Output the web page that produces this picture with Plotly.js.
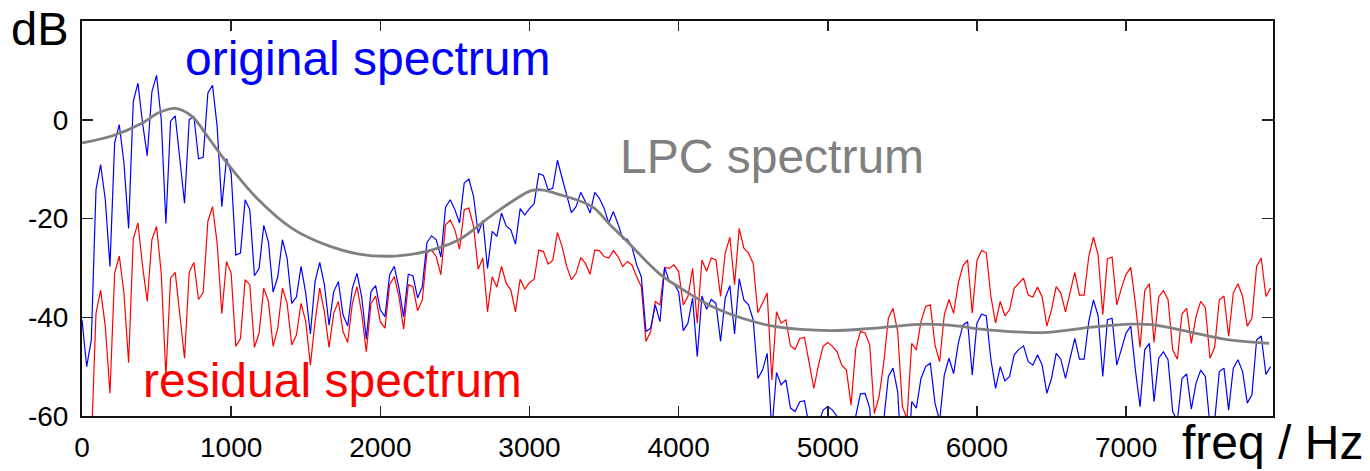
<!DOCTYPE html>
<html>
<head>
<meta charset="utf-8">
<script src="https://cdn.plot.ly/plotly-3.0.1.min.js"></script>
<style>
  html, body { margin: 0; padding: 0; background: #fff; }
  #chart { width: 1370px; height: 471px; }
</style>
</head>
<body>
<div id="chart"></div>
<script>
// Frequency bin spacing (Hz) and bin count
const binHz = 31.25;

// Original spectrum (dB), one value per bin
const originalDb = [
  -40.5, -50, -44.6, -14.2, -9.1, -16.2, -29.7, -4.7, -1.0, -8.8,
  -22, 3.7, 7.4, -0.7, -7.3, 5.7, 9.0, 0, -21, -0.3,
  0.8, -8.1, -16.9, 0, 0.7, -7.9, -7.6, 5.4, 7.0, -1.4,
  -17.6, -7.9, -10.8, -27.4, -27, -16.2, -18.2, -31.6, -30.1, -21.4,
  -24.8, -34.9, -31.8, -24.3, -28, -37.2, -35.9, -29.7, -35.1, -43.4,
  -32.8, -28.9, -33.4, -41.6, -34.8, -32.8, -39.5, -41.8, -34.1, -31.1,
  -35.8, -44.4, -34.8, -33.6, -38.5, -39.9, -31.4, -29.7, -34.1, -39.9,
  -31.3, -31.6, -36.1, -33.8, -24.9, -23.5, -24.3, -27.8, -17.7, -16.2,
  -18.2, -20.9, -12.8, -12, -15.5, -23, -20.4, -30.1, -22.6, -23.6,
  -18.9, -21.5, -22.3, -25.2, -18, -19.3, -18, -17, -10.9, -11.3,
  -14.2, -13.9, -8.2, -11.8, -15.5, -18.8, -17.6, -14.7, -16.6, -18.9,
  -14.7, -15.9, -17.9, -20.9, -18.6, -21.1, -24.1, -24.2, -25.8, -29.4,
  -31.8, -42.9, -42.2, -37.5, -40.9, -29.9, -32.8, -33.2, -34.8, -42.7,
  -41.2, -36.1, -48, -35.7, -38.4, -36.4, -37.2, -44.9, -36.1, -33.6,
  -43.4, -32.2, -36.5, -37.5, -40.5, -52.4, -50.7, -47.3, -63, -51.2,
  -53.7, -52.7, -58.4, -59.1, -57.1, -56.9, -62, -63.5, -61.5, -58.8,
  -58.1, -58.8, -60.1, -63, -64, -71, -60, -55.5, -55.4, -58.4,
  -73, -69, -61, -52, -50.3, -55.1, -71, -74, -57.1, -58.4,
  -52.4, -50, -49.3, -57.4, -61, -51.7, -48.3, -51.4, -45.3, -41.6,
  -40.9, -51.7, -41.2, -39.4, -39.7, -48.6, -54.4, -50, -52.9, -52,
  -47.6, -46.5, -45.8, -49, -49.7, -47.6, -49.7, -55.4, -52.4, -47.3,
  -48.5, -52.4, -48.3, -44.3, -48.5, -48.5, -40.9, -36.5, -39.7, -52,
  -40.5, -40.2, -49.7, -46.6, -43.2, -41.8, -50.7, -58.1, -46.6, -45.3,
  -57.1, -48.3, -47, -48.6, -59.1, -61, -52.4, -51.5, -58.6, -53.4,
  -50.7, -52, -62, -61, -51, -50.3, -58.8, -50.3, -48.6, -51,
  -57.4, -55.7, -44.6, -43.8, -51.6, -50
];

// Residual spectrum (dB), one value per bin
const residualDb = [
  -70, -75, -66, -39.2, -34.5, -41.9, -55.4, -31.1, -27.6, -35.1,
  -49.2, -24.2, -20.9, -29.7, -36.8, -24.3, -21.6, -31.1, -52, -32.1,
  -30.9, -39.9, -48.3, -30.9, -28.9, -36.4, -35, -20.6, -17.6, -25,
  -39.3, -28.7, -31.1, -45.9, -44.3, -32.4, -33.4, -46.1, -43.2, -34.1,
  -36.8, -45.9, -42.2, -34.1, -37.2, -45.6, -43.6, -37.2, -40.9, -49.7,
  -40.9, -34.1, -38.9, -46.1, -39.2, -36.8, -42.9, -45.1, -37.2, -33.8,
  -39.2, -47, -37.2, -35.7, -40.9, -42.2, -33.4, -31.8, -35.8, -42.4,
  -33.4, -33.8, -38.7, -36.5, -27, -26.4, -27.7, -31.4, -21.3, -20.3,
  -22.3, -26.2, -18.2, -17.9, -21.6, -30.3, -28, -38.9, -31.8, -33.9,
  -29.7, -33.1, -34.5, -38.9, -32.3, -34.3, -33, -32.3, -26.4, -26.7,
  -29.2, -28.5, -22.8, -25.7, -29.7, -32.4, -31.1, -27.9, -29.1, -31.3,
  -26.4, -26.5, -27.7, -28, -26.5, -27.7, -29.7, -28.7, -29.4, -31.8,
  -33.8, -44.9, -42.9, -36.8, -37.5, -29.9, -30.1, -29.4, -30.7, -37.5,
  -35.8, -30.1, -41.2, -28.4, -30.7, -28, -28.4, -35.8, -27, -23.8,
  -33.4, -22, -26, -27, -29.1, -39.1, -37.2, -35.1, -52.7, -38.9,
  -41.2, -40.5, -45.8, -46.5, -44.3, -44.1, -49.2, -54.4, -49.7, -45.9,
  -45.1, -45.9, -47, -49.7, -50.7, -57.8, -46.3, -42.9, -43.2, -45.6,
  -59.5, -56.1, -49.3, -40.2, -38.2, -42.9, -58.1, -60.5, -45.3, -46.6,
  -40.9, -37.8, -37.5, -45.6, -49, -39.5, -36.4, -39.2, -33.1, -29.6,
  -28.4, -39.2, -28.5, -26.5, -26.9, -35.8, -41.2, -36.8, -39.7, -38.5,
  -34.1, -33, -32.1, -35.5, -35.9, -33.9, -35.9, -41.8, -38.5, -33.8,
  -35.1, -38.9, -34.8, -30.9, -35.5, -35.5, -27.7, -23.8, -27.4, -39.5,
  -28.2, -27.8, -37.5, -34.1, -31.3, -29.9, -37.2, -46.1, -34.6, -33.2,
  -45.1, -35.9, -34.6, -36.4, -46.6, -48.5, -39.3, -38.2, -45.3, -39.9,
  -36.8, -38, -48.3, -46.1, -36.5, -35.7, -43.9, -35.1, -33.2, -35.8,
  -41.8, -40.2, -29.7, -28, -35.8, -34.1
];

// LPC envelope, sampled points (Hz, dB)
const lpcHz = [0, 200, 402, 514, 625, 737, 849, 938, 1000, 1183, 1408, 1632, 1856, 2101, 2303, 2527, 2750, 3008, 3080, 3197, 3420, 3532, 3644, 3868, 4013, 4203, 4427, 4650, 5019, 5320, 5655, 5879, 6025, 6437, 6773, 7030, 7175, 7444, 7668, 7959];
const lpcDb = [-4.7, -3.3, -0.7, 1.4, 2.3, 0.7, -3.7, -7.4, -9.8, -16.2, -22, -25.3, -27.2, -27.6, -26.7, -24.3, -19.3, -14.4, -14.2, -15.1, -17.6, -21, -24.3, -31.1, -34.1, -37.5, -40.2, -41.9, -42.7, -42.2, -41.4, -41.8, -42.4, -43.1, -42, -41.4, -41.5, -43.1, -44.5, -45.3];

const xTickVals = [0, 1000, 2000, 3000, 4000, 5000, 6000, 7000];
const xTickText = ['0', '1000', '2000', '3000', '4000', '5000', '6000', '7000'];
const yTickVals = [-60, -40, -20, 0, 20];
const yTickText = ['-60', '-40', '-20', '0', ''];

const freqHz = originalDb.map((_, i) => i * binHz);

// layout geometry (pixels)
const W = 1370, H = 471;
const L = 82, R = 1273, T = 21, B = 416.5;
const px = (x) => (x - L) / (R - L);
const py = (y) => (B - y) / (B - T);

const font = '"Liberation Sans", Arial, Helvetica, sans-serif';

const traces = [
  { x: freqHz, y: residualDb, type: 'scatter', mode: 'lines',
    line: { color: '#ff0000', width: 1.2 }, hoverinfo: 'skip' },
  { x: freqHz, y: originalDb, type: 'scatter', mode: 'lines',
    line: { color: '#0000ff', width: 1.2 }, hoverinfo: 'skip' },
  { x: lpcHz, y: lpcDb, type: 'scatter', mode: 'lines',
    line: { color: '#808080', width: 2.8, shape: 'spline', smoothing: 1 }, hoverinfo: 'skip' }
];

const ann = (text, x, y, color, size) => ({
  text: text, xref: 'paper', yref: 'paper', x: px(x), y: py(y),
  xanchor: 'center', yanchor: 'middle', showarrow: false,
  font: { family: font, size: size, color: color }
});

const layout = {
  width: W, height: H,
  margin: { l: L, r: W - R, t: T, b: H - B, pad: 0 },
  paper_bgcolor: '#ffffff', plot_bgcolor: '#ffffff',
  showlegend: false,
  font: { family: font, color: '#000' },
  xaxis: {
    range: [0, 7985], tickvals: xTickVals, ticktext: xTickText,
    ticks: 'inside', ticklen: 10, tickwidth: 1.5, tickcolor: '#222',
    showline: true, linecolor: '#111', linewidth: 2, mirror: 'ticks',
    showgrid: false, zeroline: false,
    tickfont: { family: font, size: 28, color: '#000' },
    ticklabelstandoff: 5
  },
  yaxis: {
    range: [-60, 20], tickvals: yTickVals, ticktext: yTickText,
    ticks: 'inside', ticklen: 11, tickwidth: 1.5, tickcolor: '#222',
    showline: true, linecolor: '#111', linewidth: 2, mirror: 'ticks',
    showgrid: false, zeroline: false,
    tickfont: { family: font, size: 28, color: '#000' },
    ticklabelstandoff: 6
  },
  annotations: [
    ann('original spectrum', 367, 59, '#0000ff', 48),
    ann('LPC spectrum', 772, 157, '#808080', 48),
    ann('residual spectrum', 332, 381, '#ff0000', 48),
    ann('dB', 40, 29, '#000', 47),
    ann('freq / Hz', 1272, 443, '#000', 48)
  ]
};

Plotly.newPlot('chart', traces, layout, { staticPlot: true, displayModeBar: false });
</script>
</body>
</html>
